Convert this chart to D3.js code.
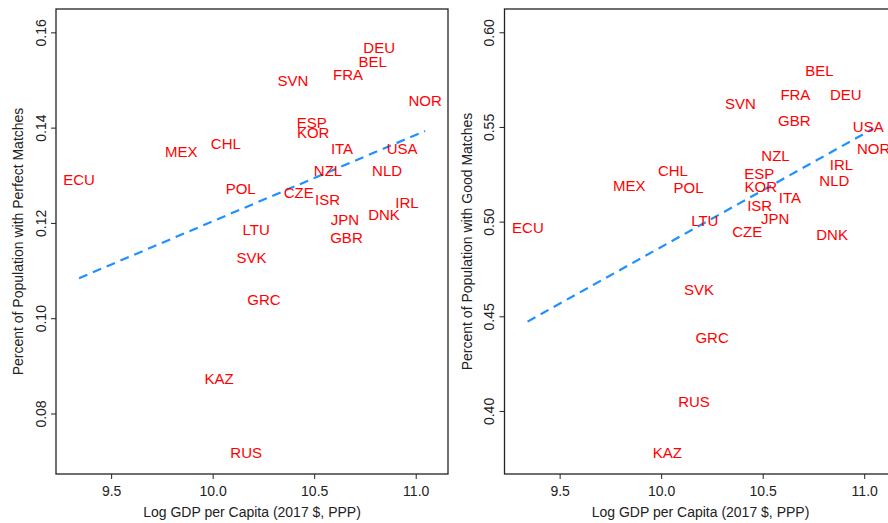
<!DOCTYPE html>
<html>
<head>
<meta charset="utf-8">
<script src="https://cdn.jsdelivr.net/npm/d3@7"></script>
<style>
  html, body { margin: 0; padding: 0; background: #fff; }
  svg { display: block; font-family: "Liberation Sans", Arial, Helvetica, sans-serif; }
</style>
</head>
<body>
<svg id="chart" width="888" height="523"></svg>
<script>
// ---- Data ----
const countries = ["ECU","MEX","CHL","KAZ","POL","RUS","SVK","LTU","GRC","SVN","CZE","ESP","KOR","ISR","NZL","ITA","JPN","GBR","FRA","BEL","DEU","DNK","NLD","USA","IRL","NOR"];
// label x positions (log GDP per capita) in each panel
const gdpPerfect = [9.342, 9.845, 10.065, 10.032, 10.138, 10.165, 10.191, 10.214, 10.253, 10.395, 10.424, 10.488, 10.495, 10.566, 10.568, 10.637, 10.651, 10.659, 10.667, 10.788, 10.820, 10.844, 10.859, 10.933, 10.957, 11.046];
const gdpGood    = [9.344, 9.843, 10.058, 10.030, 10.135, 10.162, 10.187, 10.215, 10.251, 10.390, 10.424, 10.483, 10.491, 10.485, 10.563, 10.634, 10.561, 10.656, 10.661, 10.780, 10.909, 10.842, 10.853, 11.020, 10.888, 11.046];
const perfectMatches = [0.1291, 0.1350, 0.1366, 0.0874, 0.1273, 0.0718, 0.1127, 0.1186, 0.1038, 0.1499, 0.1263, 0.1410, 0.1390, 0.1249, 0.1310, 0.1355, 0.1207, 0.1170, 0.1511, 0.1539, 0.1567, 0.1217, 0.1310, 0.1356, 0.1242, 0.1457];
const goodMatches    = [0.4969, 0.5190, 0.5269, 0.3778, 0.5181, 0.4049, 0.4639, 0.5006, 0.4389, 0.5624, 0.4948, 0.5256, 0.5184, 0.5087, 0.5348, 0.5128, 0.5018, 0.5536, 0.5673, 0.5798, 0.5673, 0.4932, 0.5216, 0.5504, 0.5302, 0.5388];
// fitted regression lines: [x, y] at both ends
const fitPerfect = [[9.342, 0.1084], [11.046, 0.1393]];
const fitGood    = [[9.342, 0.4472], [11.046, 0.5492]];
// ticks
const xTicks = [9.5, 10.0, 10.5, 11.0];
const yTicksPerfect = [0.08, 0.10, 0.12, 0.14, 0.16];
const yTicksGood = [0.40, 0.45, 0.50, 0.55, 0.60];
const xTitle = "Log GDP per Capita (2017 $, PPP)";
const yTitlePerfect = "Percent of Population with Perfect Matches";
const yTitleGood = "Percent of Population with Good Matches";

// ---- Drawing ----
const svg = d3.select("#chart");
const plotTop = 9, plotBottom = 474, panelW = 392;
const xDomain = [9.2285, 11.159];

function panel(left, xs, ys, fit, yDomain, yTicks, yTitle) {
  const x = d3.scaleLinear().domain(xDomain).range([left, left + panelW]);
  const y = d3.scaleLinear().domain(yDomain).range([plotBottom, plotTop]);
  const g = svg.append("g");

  // regression line
  g.append("path")
    .attr("d", d3.line().x(d => x(d[0])).y(d => y(d[1]))(fit))
    .attr("fill", "none")
    .attr("stroke", "#1E90FF")
    .attr("stroke-width", 2.2)
    .attr("stroke-dasharray", "9,6");

  // country labels
  g.selectAll("text.lab").data(countries).join("text")
    .attr("class", "lab")
    .attr("x", (d, i) => x(xs[i]))
    .attr("y", (d, i) => y(ys[i]))
    .attr("dy", "0.358em")
    .attr("text-anchor", "middle")
    .attr("font-size", 15)
    .attr("fill", "#FF0000")
    .text(d => d);

  // x axis
  const xa = g.append("g").attr("transform", `translate(0,${plotBottom})`)
    .call(d3.axisBottom(x).tickValues(xTicks).tickFormat(d3.format(".1f")).tickSize(5).tickPadding(7.5));
  xa.select(".domain").remove();
  xa.selectAll("line").attr("stroke", "#222").attr("stroke-width", 1);
  xa.selectAll("text").attr("font-size", 14).attr("fill", "#222");
  xa.attr("font-family", null);

  // y axis
  const ya = g.append("g").attr("transform", `translate(${left},0)`)
    .call(d3.axisLeft(y).tickValues(yTicks).tickFormat(d3.format(".2f")).tickSize(5));
  ya.select(".domain").remove();
  ya.attr("font-family", null);
  ya.selectAll("line").attr("stroke", "#222").attr("stroke-width", 1);
  ya.selectAll("text")
    .attr("x", null).attr("dy", null)
    .attr("text-anchor", "middle")
    .attr("transform", "translate(-10.5,0) rotate(-90)")
    .attr("font-size", 14).attr("fill", "#222");

  // box
  g.append("rect")
    .attr("x", left).attr("y", plotTop)
    .attr("width", panelW).attr("height", plotBottom - plotTop)
    .attr("fill", "none").attr("stroke", "#222").attr("stroke-width", 1.3);

  // titles
  g.append("text")
    .attr("x", left + panelW / 2).attr("y", 516.5)
    .attr("text-anchor", "middle").attr("font-size", 14).attr("fill", "#222")
    .text(xTitle);
  g.append("text")
    .attr("transform", `translate(${left - 33},${(plotTop + plotBottom) / 2}) rotate(-90)`)
    .attr("text-anchor", "middle").attr("font-size", 14).attr("fill", "#222")
    .text(yTitle);
}

panel(56, gdpPerfect, perfectMatches, fitPerfect, [0.0673, 0.1649], yTicksPerfect, yTitlePerfect);
panel(504.5, gdpGood, goodMatches, fitGood, [0.3667, 0.6123], yTicksGood, yTitleGood);
</script>
</body>
</html>
